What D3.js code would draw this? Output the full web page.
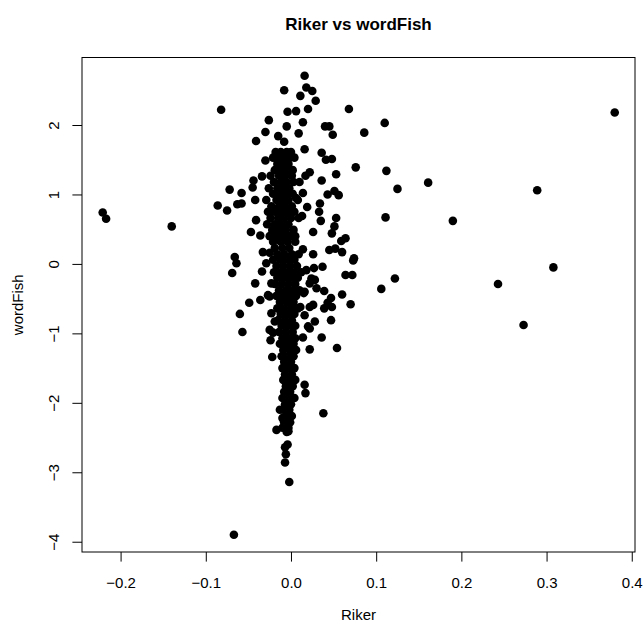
<!DOCTYPE html>
<html>
<head>
<meta charset="utf-8">
<script src="https://cdn.jsdelivr.net/npm/d3@7"></script>
<style>
  body { margin: 0; background: #fff; }
  svg { display: block; font-family: "Liberation Sans", Arial, Helvetica, sans-serif; }
</style>
</head>
<body>
<div id="chart-area"></div>
<script>
// far away points
var outlierPts = [
  [-0.221, 0.74], [-0.217, 0.65], [-0.140, 0.54], [-0.082, 2.22], [-0.067, -3.90], [-0.002, -3.14],
  [0.110, 2.03], [0.380, 2.18], [0.112, 1.34], [0.125, 1.08], [0.161, 1.17], [0.289, 1.06],
  [0.111, 0.67], [0.190, 0.62], [0.122, -0.21], [0.106, -0.36], [0.243, -0.29], [0.308, -0.05], [0.273, -0.88]
];

// scattered points, upper half
var upperPts = [
  [0.016, 2.71], [-0.008, 2.50], [0.018, 2.54], [0.025, 2.49], [0.011, 2.42], [0.029, 2.35], [0.068, 2.23],
  [-0.004, 2.19], [0.006, 2.20], [0.020, 2.23], [-0.026, 2.07], [0.014, 2.04], [-0.005, 1.98], [0.040, 1.98],
  [0.045, 1.98], [-0.030, 1.90], [0.009, 1.88], [0.049, 1.86], [0.086, 1.89], [-0.015, 1.84], [-0.041, 1.77],
  [-0.008, 1.76], [0.016, 1.65], [0.036, 1.60], [0.041, 1.50], [0.048, 1.51], [-0.030, 1.49], [0.076, 1.39],
  [0.053, 1.29], [0.022, 1.32], [0.017, 1.27], [-0.044, 1.20], [-0.034, 1.26], [0.036, 1.20], [-0.072, 1.07],
  [-0.058, 1.02], [-0.045, 1.10], [0.051, 1.05], [0.056, 0.99], [0.043, 1.00], [0.014, 1.02], [-0.086, 0.84],
  [-0.075, 0.77], [-0.063, 0.86], [-0.058, 0.87], [-0.042, 0.92], [0.006, 0.95], [0.019, 0.82], [0.034, 0.87],
  [0.033, 0.75], [0.013, 0.69], [0.035, 0.62], [0.053, 0.66], [-0.041, 0.63], [-0.047, 0.46], [-0.036, 0.41],
  [0.005, 0.40], [0.026, 0.46], [0.048, 0.44], [0.051, 0.54], [0.059, 0.33], [0.064, 0.37], [-0.066, 0.10],
  [-0.033, 0.17], [-0.025, 0.16], [0.014, 0.21], [0.026, 0.14], [0.045, 0.20], [0.052, 0.22], [0.060, 0.17],
  [0.074, 0.08]
];

// scattered points, lower half
var lowerPts = [
  [-0.064, 0.01], [-0.069, -0.13], [-0.042, -0.28], [-0.034, -0.11], [-0.049, -0.56], [-0.060, -0.72],
  [-0.057, -0.98], [-0.036, -0.52], [-0.025, -0.47], [0.037, -0.04], [0.027, -0.06], [0.073, 0.05],
  [0.064, -0.16], [0.072, -0.16], [0.039, -0.39], [0.060, -0.44], [0.070, -0.58], [0.047, -0.49],
  [0.043, -0.56], [0.048, -0.62], [0.039, -0.64], [0.026, -0.59], [0.015, -0.42], [0.022, -0.28],
  [0.028, -0.23], [0.047, -0.81], [0.028, -0.83], [0.022, -0.93], [0.014, -1.06], [0.036, -1.06],
  [0.022, -1.23], [0.054, -1.21], [-0.022, -1.34], [-0.024, -1.10], [-0.021, -0.99], [0.016, -1.74],
  [0.017, -1.86], [0.038, -2.15], [-0.013, -2.10], [-0.017, -2.39], [-0.005, -2.42], [-0.004, -2.60],
  [-0.007, -2.64], [-0.006, -2.74], [-0.007, -2.86], [-0.010, -2.22], [-0.003, -2.41],
  [0.018, -0.09], [0.024, -0.21], [0.030, -0.35], [0.016, -0.40], [0.011, -0.62], [0.022, -0.62],
  [0.016, -0.74], [0.020, -0.90], [-0.029, 0.01], [-0.023, -0.28], [-0.027, -0.45], [-0.023, -0.71],
  [-0.019, -0.83], [-0.025, -0.95]
];

// the dense column near Riker = 0, one wordFish value per row
var coreWordFish = [
  1.61, 1.53, 1.44, 1.35, 1.27, 1.18, 1.09, 1.01, 0.92, 0.83, 0.75, 0.66, 0.57, 0.49, 0.40, 0.32,
  0.23, 0.14, 0.06, -0.03, -0.12, -0.20, -0.29, -0.38, -0.46, -0.55, -0.64, -0.72, -0.81, -0.89,
  -0.98, -1.07, -1.15, -1.24, -1.33, -1.41, -1.50, -1.59, -1.67, -1.76, -1.84, -1.93, -2.02, -2.10,
  -2.19, -2.28, -2.36
];
var coreRiker = [
  [-0.018, -0.012, -0.005, 0.000],
  [-0.021, -0.014, -0.008, -0.002, 0.004],
  [-0.016, -0.009, -0.003],
  [-0.019, -0.011, -0.004, 0.002],
  [-0.024, -0.014, -0.007, 0.001],
  [-0.020, -0.012, -0.005, 0.003, 0.010],
  [-0.026, -0.016, -0.009, -0.002],
  [-0.021, -0.013, -0.006, 0.002],
  [-0.029, -0.017, -0.010, -0.003, 0.008],
  [-0.023, -0.014, -0.007, 0.001],
  [-0.027, -0.019, -0.011, -0.004, 0.004],
  [-0.024, -0.015, -0.008, 0.000, 0.009],
  [-0.028, -0.019, -0.011, -0.003],
  [-0.022, -0.014, -0.006, 0.003],
  [-0.025, -0.017, -0.009, -0.001],
  [-0.021, -0.012, -0.004, 0.005],
  [-0.019, -0.010, -0.002],
  [-0.016, -0.008, 0.001, 0.009],
  [-0.021, -0.012, -0.004, 0.004],
  [-0.017, -0.009, -0.001, 0.007],
  [-0.020, -0.012, -0.004, 0.004, 0.012],
  [-0.016, -0.008, 0.000, 0.008],
  [-0.019, -0.011, -0.003, 0.005],
  [-0.014, -0.006, 0.002, 0.010],
  [-0.017, -0.009, -0.001, 0.006],
  [-0.013, -0.005, 0.003],
  [-0.016, -0.008, 0.000, 0.008],
  [-0.012, -0.004, 0.004],
  [-0.015, -0.007, 0.001],
  [-0.011, -0.003, 0.005],
  [-0.014, -0.006, 0.002],
  [-0.010, -0.002, 0.005],
  [-0.013, -0.005, 0.003],
  [-0.009, -0.001, 0.006],
  [-0.011, -0.004, 0.003],
  [-0.008, 0.000],
  [-0.010, -0.003, 0.004],
  [-0.007, 0.001],
  [-0.009, -0.002, 0.005],
  [-0.006, 0.002],
  [-0.008, -0.001],
  [-0.010, -0.003, 0.004],
  [-0.007, 0.000],
  [-0.009, -0.002],
  [-0.006, 0.001],
  [-0.008, -0.001],
  [-0.010, -0.003]
];

var xTicks = [-0.2, -0.1, 0.0, 0.1, 0.2, 0.3, 0.4];
var yTicks = [-4, -3, -2, -1, 0, 1, 2];

var width = 644, height = 628;
var plot = { left: 82, right: 635, top: 57.5, bottom: 552 };

var points = outlierPts.concat(upperPts, lowerPts);
coreWordFish.forEach(function(wf, i) {
  coreRiker[i].forEach(function(r) { points.push([r, wf]); });
});

var x = d3.scaleLinear().domain([-0.2453, 0.4038]).range([plot.left, plot.right]);
var y = d3.scaleLinear().domain([-4.148, 2.972]).range([plot.bottom, plot.top]);

var svg = d3.select("#chart-area").append("svg")
  .attr("width", width)
  .attr("height", height);

// points
svg.append("g")
  .selectAll("circle")
  .data(points)
  .join("circle")
    .attr("cx", d => x(d[0]))
    .attr("cy", d => y(d[1]))
    .attr("r", 4.3)
    .attr("fill", "#000");

// x axis
var gx = svg.append("g")
  .attr("transform", "translate(0," + plot.bottom + ")")
  .call(d3.axisBottom(x).tickValues(xTicks).tickFormat(d3.format(".1f")).tickSize(9.6));
gx.select(".domain").remove();
gx.selectAll(".tick line").attr("stroke", "#000");
gx.selectAll(".tick text")
  .attr("y", 36)
  .attr("dy", null)
  .attr("fill", "#000")
  .attr("font-size", 15)
  .attr("font-family", null);

// y axis, labels turned like R does
var gy = svg.append("g")
  .attr("transform", "translate(" + plot.left + ",0)")
  .call(d3.axisLeft(y).tickValues(yTicks).tickFormat(d3.format("d")).tickSize(9.6));
gy.select(".domain").remove();
gy.selectAll(".tick line").attr("stroke", "#000");
gy.selectAll(".tick text")
  .attr("x", null)
  .attr("dy", null)
  .attr("text-anchor", "middle")
  .attr("transform", "translate(-23.5,0) rotate(-90)")
  .attr("fill", "#000")
  .attr("font-size", 15)
  .attr("font-family", null);

// box
svg.append("rect")
  .attr("x", plot.left)
  .attr("y", plot.top)
  .attr("width", plot.right - plot.left)
  .attr("height", plot.bottom - plot.top)
  .attr("fill", "none")
  .attr("stroke", "#000")
  .attr("stroke-width", 1);

var midX = (plot.left + plot.right) / 2;
var midY = (plot.top + plot.bottom) / 2;

svg.append("text")
  .attr("x", midX)
  .attr("y", 30)
  .attr("text-anchor", "middle")
  .attr("font-weight", "bold")
  .attr("font-size", 17)
  .text("Riker vs wordFish");

svg.append("text")
  .attr("x", midX)
  .attr("y", 620)
  .attr("text-anchor", "middle")
  .attr("font-size", 15)
  .text("Riker");

svg.append("text")
  .attr("transform", "translate(23," + midY + ") rotate(-90)")
  .attr("text-anchor", "middle")
  .attr("font-size", 15)
  .text("wordFish");
</script>
</body>
</html>
